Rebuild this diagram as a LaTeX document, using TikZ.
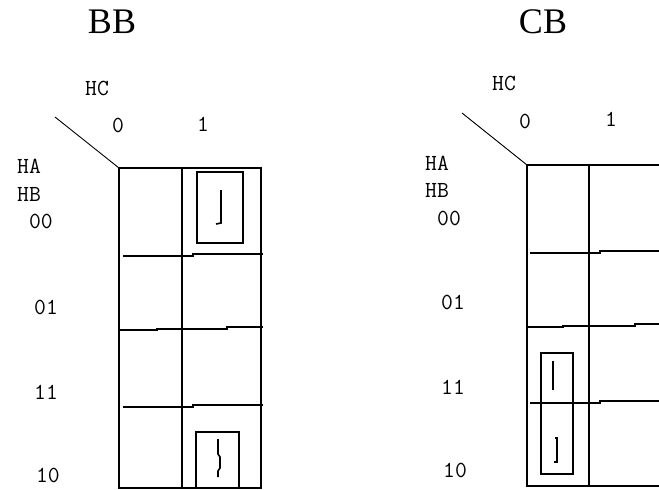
\documentclass[tikz,border=0pt]{standalone}
\usepackage{fontspec}
\setmainfont{Liberation Serif}
\begin{document}
\begin{tikzpicture}[x=1pt,y=-1pt,line width=1.6pt,line join=miter,
    title/.style={font=\fontsize{36}{40}\selectfont,inner sep=0pt},
    lbl/.style={font=\ttfamily\fontsize{23}{25}\selectfont,inner sep=0pt},
    diag/.style={line width=0.9pt}]
  \useasboundingbox (0,0) rectangle (659,490);
  % left map
  \node[title](bb) at (112,22){BB};
  \node[lbl](bbhc) at (97,88){HC};
  \node[lbl](bbc0) at (118,125){0};
  \node[lbl](bbc1) at (203,124){1};
  \node[lbl](bbha) at (29,166){HA};
  \node[lbl](bbhb) at (29,194){HB};
  \node[lbl](bbr0) at (41,221){00};
  \node[lbl](bbr1) at (46,307){01};
  \node[lbl](bbr3) at (46,392){11};
  \node[lbl](bbr2) at (48,475){10};
  \coordinate (bbtl) at (119,168);
  \coordinate (bbd) at (55,117);
  \draw[diag] (bbd) -- (bbtl);
  \draw (bbtl) rectangle (261,488);
  \draw (182,168) -- (182,488);
  \draw (123,256) -- (193,256) -- (193,254) -- (263,254);
  \draw (119,330) -- (157,330) -- (157,329) -- (227,329) -- (227,327) -- (263,327);
  \draw (123,407) -- (193,407) -- (193,405) -- (263,405);
  \draw (197,172) rectangle (243,243);
  \draw (221,190) -- (221,223) -- (216,224);
  \draw (196,432) rectangle (239,488);
  \draw (218,439) -- (218,454) -- (220,457) -- (220,468) -- (218,471) -- (218,477);
  % right map
  \node[title](cb) at (543,22){CB};
  \node[lbl](cbhc) at (504,83){HC};
  \node[lbl](cbc0) at (525,121){0};
  \node[lbl](cbc1) at (611,119){1};
  \node[lbl](cbha) at (437,163){HA};
  \node[lbl](cbhb) at (437,190){HB};
  \node[lbl](cbr0) at (449,218){00};
  \node[lbl](cbr1) at (453,302){01};
  \node[lbl](cbr3) at (453,387){11};
  \node[lbl](cbr2) at (455,470){10};
  \coordinate (cbtl) at (527,165);
  \coordinate (cbd) at (462,113);
  \draw[diag] (cbd) -- (cbtl);
  \draw (659,165) -- (cbtl) -- (527,486) -- (659,486);
  \draw (589,165) -- (589,486);
  \draw (530,253) -- (600,253) -- (600,251) -- (659,251);
  \draw (527,327) -- (563,327) -- (563,326) -- (635,326) -- (635,324) -- (659,324);
  \draw (530,403) -- (600,403) -- (600,401) -- (659,401);
  \draw (541,353) rectangle (573,474);
  \draw (553,361) -- (553,390);
  \draw (555,438) -- (557,438) -- (557,462) -- (554,462);
\end{tikzpicture}
\end{document}
